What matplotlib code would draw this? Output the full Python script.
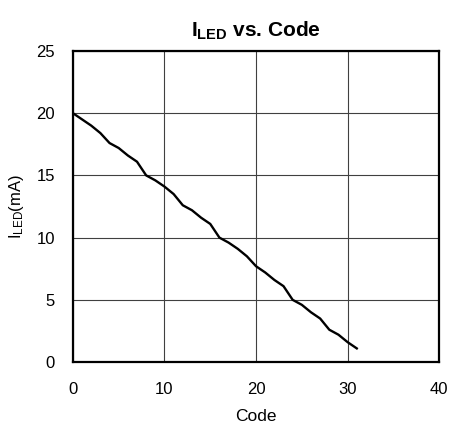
import matplotlib
matplotlib.use('Agg')
import matplotlib.pyplot as plt

plt.rcParams['font.family'] = ['Liberation Sans', 'DejaVu Sans']
plt.rcParams['mathtext.fontset'] = 'custom'
plt.rcParams['mathtext.rm'] = 'Liberation Sans'
plt.rcParams['mathtext.bf'] = 'Liberation Sans:bold'
plt.rcParams['mathtext.it'] = 'Liberation Sans:italic'

# LED current, one value per code
code = list(range(32))
i_led = [20.0, 19.5, 19.0, 18.4, 17.6, 17.2, 16.6, 16.1,
         15.0, 14.6, 14.1, 13.5, 12.6, 12.2, 11.6, 11.1,
         10.0, 9.6, 9.1, 8.5, 7.7, 7.2, 6.6, 6.1,
         5.0, 4.6, 4.0, 3.5, 2.6, 2.2, 1.6, 1.1]

xticks = [0, 10, 20, 30, 40]
yticks = [0, 5, 10, 15, 20, 25]

fig = plt.figure(figsize=(4.5, 4.28), dpi=100)
ax = fig.add_axes([0.162, 0.154, 0.814, 0.727])

ax.plot(code, i_led, color='black', linewidth=1.7, solid_joinstyle='round')

ax.set_xlim(0, 40)
ax.set_ylim(0, 25)
ax.set_xticks(xticks)
ax.set_yticks(yticks)
ax.tick_params(length=0, labelsize=12)
ax.tick_params(axis='x', pad=14)
ax.tick_params(axis='y', pad=13)
ax.grid(True, color='#404040', linewidth=0.8)
for s in ax.spines.values():
    s.set_linewidth(1.6)

ax.set_xlabel('Code', fontsize=12.5, labelpad=9)
ax.set_ylabel(r'$\mathrm{I_{LED}}$(mA)', fontsize=12, labelpad=7)
ax.set_title(r'$\mathbf{I_{LED}}$ vs. Code', fontsize=15, fontweight='bold', pad=10)

fig.savefig('out.png', dpi=100)
